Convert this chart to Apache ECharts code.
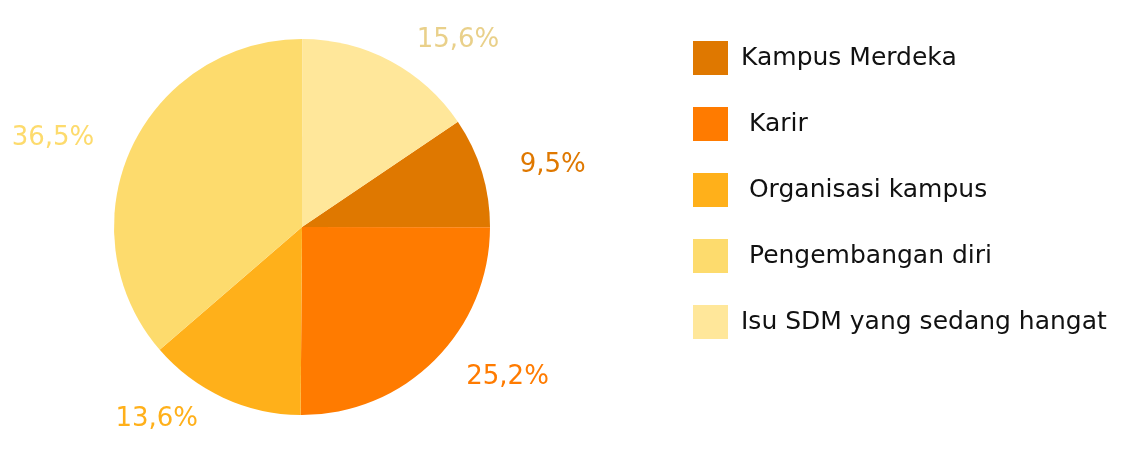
<!DOCTYPE html>
<html>
<head>
<meta charset="utf-8">
<script src="https://cdn.jsdelivr.net/npm/echarts@6/dist/echarts.min.js"></script>
<style>
  html, body { margin: 0; padding: 0; background: #fff; }
  #chart { width: 1134px; height: 450px; }
</style>
</head>
<body>
<div id="chart"></div>
<script>
// names keep the leading spaces seen in the legend
const categories = ['Kampus Merdeka', ' Karir', ' Organisasi kampus', ' Pengembangan diri', 'Isu SDM yang sedang hangat']
const values = [9.5, 25.2, 13.6, 36.5, 15.6]
const colors = ['#DF7800', '#FF7B00', '#FFB01A', '#FDDB6D', '#FFE79A']
const labelColors = ['#DF7800', '#FF7B00', '#FFB01A', '#FDDB6D', '#E9D08A']

const font = '"DejaVu Sans", "Noto Sans", sans-serif'

const chart = echarts.init(document.getElementById('chart'), null, { renderer: 'canvas' })

chart.setOption({
  animation: false,
  legend: {
    orient: 'vertical',
    left: 693,
    top: 41,
    padding: 0,
    itemWidth: 35,
    itemHeight: 34,
    itemGap: 32,
    icon: 'rect',
    textStyle: { fontFamily: font, fontSize: 25, color: '#111', padding: [0, 0, 0, 8] },
    data: categories
  },
  series: [{
    type: 'pie',
    center: [302, 227],
    radius: 188,
    startAngle: 34,
    clockwise: true,
    label: {
      show: true,
      position: 'outside',
      overflow: 'none',
      fontFamily: font,
      fontSize: 26,
      fontWeight: 'normal',
      formatter: p => String(p.value).replace('.', ',') + '%'
    },
    labelLine: { show: false, length: 24, length2: 10 },
    data: categories.map((name, i) => ({
      name,
      value: values[i],
      itemStyle: { color: colors[i] },
      label: { color: labelColors[i] }
    }))
  }]
})
</script>
</body>
</html>
